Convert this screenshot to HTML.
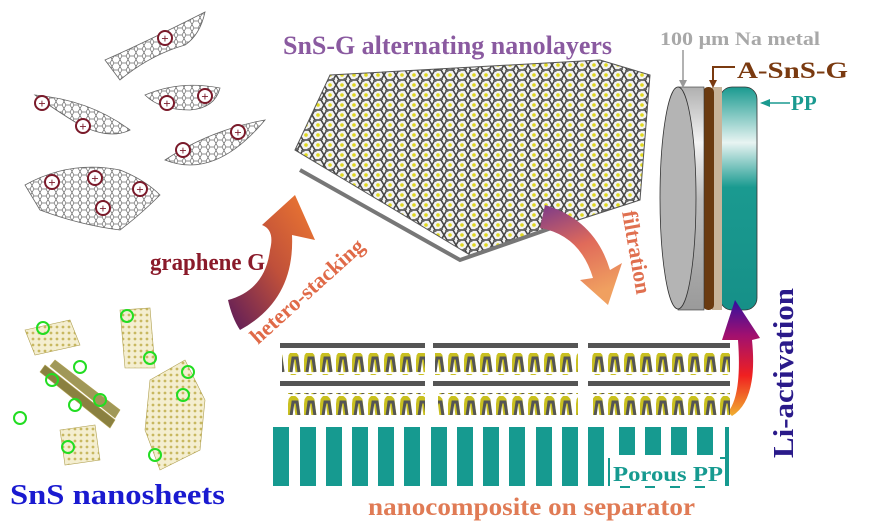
<!DOCTYPE html>
<html><head><meta charset="utf-8"><style>
html,body{margin:0;padding:0;background:#fff;}
svg{display:block}
text{font-family:"Liberation Serif",serif;font-weight:bold}
</style></head><body>
<svg width="872" height="523" viewBox="0 0 872 523" xmlns="http://www.w3.org/2000/svg">
<defs>
<pattern id="hex" width="8" height="7" patternUnits="userSpaceOnUse">
<rect width="8" height="7" fill="#fff"/>
<path d="M0 3.5 L2 0 L6 0 L8 3.5 L6 7 L2 7 Z" fill="none" stroke="#666" stroke-width="0.7"/>
</pattern>
<pattern id="hexy" width="12" height="10" patternUnits="userSpaceOnUse">
<rect width="12" height="10" fill="#f2f2f2"/>
<path d="M0 5 L3 0 L9 0 L12 5 L9 10 L3 10 Z" fill="none" stroke="#444" stroke-width="1.6"/>
<circle cx="3" cy="0" r="2" fill="#666"/><circle cx="9" cy="10" r="2" fill="#666"/>
<circle cx="6" cy="5" r="1.8" fill="#e0d820"/>
</pattern>
<pattern id="sns" width="6" height="6" patternUnits="userSpaceOnUse">
<rect width="6" height="6" fill="#f4eed0"/>
<circle cx="3" cy="3" r="1.4" fill="#c8b860"/>
</pattern>
<pattern id="wave" width="16" height="22" patternUnits="userSpaceOnUse">
<path d="M1 20 L3 4 Q5 0 8 4 L10 20" fill="none" stroke="#c9c020" stroke-width="5"/>
<path d="M3 20 L5 6 L9 6 L11 20" fill="none" stroke="#555" stroke-width="3"/>
</pattern>
<linearGradient id="ghs" x1="0" y1="1" x2="1" y2="0">
<stop offset="0" stop-color="#5a1a5a"/><stop offset="0.5" stop-color="#c0503a"/><stop offset="1" stop-color="#f07a30"/>
</linearGradient>
<linearGradient id="gfil" x1="0" y1="0" x2="0.3" y2="1">
<stop offset="0" stop-color="#7a3a8a"/><stop offset="0.5" stop-color="#e06a5a"/><stop offset="1" stop-color="#f0a060"/>
</linearGradient>
<linearGradient id="gli" x1="0" y1="1" x2="0" y2="0">
<stop offset="0" stop-color="#f0b030"/><stop offset="0.35" stop-color="#f02020"/><stop offset="0.7" stop-color="#a01070"/><stop offset="1" stop-color="#3010a0"/>
</linearGradient>
<linearGradient id="gcyl" x1="0" y1="0" x2="0" y2="1">
<stop offset="0" stop-color="#b0b0b0"/><stop offset="0.25" stop-color="#f4f4f4"/><stop offset="0.5" stop-color="#bdbdbd"/><stop offset="1" stop-color="#9a9a9a"/>
</linearGradient>
<linearGradient id="gteal" x1="0" y1="0" x2="0" y2="1">
<stop offset="0" stop-color="#1a9a90"/><stop offset="0.25" stop-color="#e8f4f2"/><stop offset="0.45" stop-color="#1a9a90"/><stop offset="1" stop-color="#169088"/>
</linearGradient>
</defs>

<g stroke="#666" stroke-width="0.8">
<path d="M105 60 Q150 40 205 12 Q200 35 185 45 Q150 55 120 80 Z" fill="url(#hex)"/>
<path d="M35 95 Q90 100 130 130 Q110 140 80 125 Q55 110 35 95 Z" fill="url(#hex)"/>
<path d="M145 95 Q180 80 220 88 Q215 108 190 110 Q160 110 145 95 Z" fill="url(#hex)"/>
<path d="M165 160 Q210 130 265 120 Q240 150 215 160 Q190 170 165 160 Z" fill="url(#hex)"/>
<path d="M25 185 Q70 160 120 170 Q145 180 160 195 Q140 215 120 230 Q80 225 40 210 Z" fill="url(#hex)"/>
</g>
<g stroke="#7a1a2a" stroke-width="2" fill="#fff">
<circle cx="165" cy="38" r="7"/><circle cx="42" cy="103" r="7"/><circle cx="83" cy="126" r="7"/>
<circle cx="167" cy="103" r="7"/><circle cx="205" cy="96" r="7"/><circle cx="238" cy="132" r="7"/>
<circle cx="183" cy="150" r="7"/><circle cx="52" cy="182" r="7"/><circle cx="95" cy="178" r="7"/>
<circle cx="140" cy="189" r="7"/><circle cx="103" cy="208" r="7"/>
</g>
<g fill="#7a1a2a" font-size="13" text-anchor="middle" style="font-family:'Liberation Sans',sans-serif">
<text x="165" y="43">+</text><text x="42" y="108">+</text><text x="83" y="131">+</text>
<text x="167" y="108">+</text><text x="205" y="101">+</text><text x="238" y="137">+</text>
<text x="183" y="155">+</text><text x="52" y="187">+</text><text x="95" y="183">+</text>
<text x="140" y="194">+</text><text x="103" y="213">+</text>
</g>
<text x="150" y="270" font-size="24" fill="#8a1a2a" textLength="115" lengthAdjust="spacingAndGlyphs">graphene G</text>

<g stroke="#b0a050" stroke-width="0.6">
<path d="M25 330 L70 320 L80 345 L35 355 Z" fill="url(#sns)"/>
<path d="M120 310 L150 308 L155 368 L125 368 Z" fill="url(#sns)"/>
<path d="M150 380 L185 360 L205 400 L200 450 L160 470 L145 430 Z" fill="url(#sns)"/>
<path d="M60 430 L95 425 L100 460 L65 465 Z" fill="url(#sns)"/>
<path d="M45 365 L115 420 L110 428 L40 372 Z" fill="#8a8040"/>
<path d="M55 360 L120 410 L115 418 L50 366 Z" fill="#a09858"/>
</g>
<g stroke="#22dd22" stroke-width="2" fill="none">
<circle cx="43" cy="328" r="6"/><circle cx="127" cy="316" r="6"/><circle cx="150" cy="358" r="6"/>
<circle cx="52" cy="380" r="6"/><circle cx="80" cy="367" r="6"/><circle cx="75" cy="405" r="6"/>
<circle cx="100" cy="400" r="6"/><circle cx="188" cy="372" r="6"/><circle cx="183" cy="395" r="6"/>
<circle cx="20" cy="418" r="6"/><circle cx="68" cy="447" r="6"/><circle cx="155" cy="455" r="6"/>
</g>
<text x="10" y="504" font-size="28" fill="#1a1ad0" textLength="215" lengthAdjust="spacingAndGlyphs">SnS nanosheets</text>

<path d="M228 300 Q265 290 270 250 Q275 230 262 225 L295 195 L315 240 L292 235 Q295 300 240 330 Q232 318 228 300 Z" fill="url(#ghs)"/>
<text transform="translate(258,345) rotate(-42)" font-size="22" fill="#e06a48">hetero-stacking</text>

<text x="283" y="54" font-size="26" fill="#8a5aa0" textLength="329" lengthAdjust="spacingAndGlyphs">SnS-G  alternating nanolayers</text>

<path d="M295 150 L330 75 L600 60 L650 75 L640 200 L470 255 Z" fill="url(#hexy)" stroke="#555" stroke-width="1"/>
<path d="M300 170 L460 260 L560 225" fill="none" stroke="#777" stroke-width="4"/>

<path d="M545 205 Q595 220 610 270 L622 263 L608 305 L580 280 L593 278 Q580 235 540 228 Z" fill="url(#gfil)"/>
<text transform="translate(622,212) rotate(80)" font-size="22" fill="#e07050">filtration</text>

<rect x="720" y="87" width="37" height="223" rx="12" fill="url(#gteal)" stroke="#333" stroke-width="0.8"/>
<rect x="712" y="87" width="10" height="223" fill="#c8b49a"/>
<rect x="703" y="87" width="11" height="223" rx="5" fill="#6a3a10"/>
<rect x="678" y="87" width="26" height="223" fill="url(#gcyl)" stroke="#333" stroke-width="0.6"/>
<ellipse cx="678" cy="198" rx="18" ry="111" fill="#b4b4b4" stroke="#333" stroke-width="0.8"/>
<text x="660" y="45" font-size="19" fill="#a8a8a8" textLength="160" lengthAdjust="spacingAndGlyphs">100 μm Na metal</text>
<line x1="683" y1="50" x2="683" y2="82" stroke="#999" stroke-width="1.5"/>
<path d="M679 80 L683 88 L687 80 Z" fill="#999"/>
<path d="M713 82 L713 67 L735 67" fill="none" stroke="#7a3a10" stroke-width="2"/>
<path d="M709 80 L713 88 L717 80 Z" fill="#7a3a10"/>
<text x="737" y="78" font-size="23" fill="#7a3a10" textLength="111" lengthAdjust="spacingAndGlyphs">A-SnS-G</text>
<line x1="764" y1="103" x2="790" y2="103" stroke="#1a9a90" stroke-width="1.5"/>
<path d="M770 99 L760 103 L770 107 Z" fill="#1a9a90"/>
<text x="791" y="110" font-size="21" fill="#1a9a90">PP</text>

<path d="M732 416 Q758 400 752 340 L760 338 L735 300 L722 340 L738 340 Q742 395 728 412 Z" fill="url(#gli)"/>
<text transform="translate(793,458) rotate(-90)" font-size="28" fill="#2a1a8a" textLength="170" lengthAdjust="spacingAndGlyphs">Li-activation</text>

<g>
<rect x="280" y="343" width="145" height="5" fill="#555"/>
<rect x="433" y="343" width="145" height="5" fill="#555"/>
<rect x="588" y="343" width="142" height="5" fill="#555"/>
<rect x="282" y="353" width="143" height="22" fill="url(#wave)"/>
<rect x="435" y="353" width="143" height="22" fill="url(#wave)"/>
<rect x="590" y="353" width="140" height="22" fill="url(#wave)"/>
<rect x="280" y="381" width="145" height="5" fill="#555"/>
<rect x="433" y="381" width="145" height="5" fill="#555"/>
<rect x="588" y="381" width="142" height="5" fill="#555"/>
<rect x="285" y="393" width="140" height="22" fill="url(#wave)"/>
<rect x="438" y="393" width="140" height="22" fill="url(#wave)"/>
<rect x="593" y="393" width="137" height="22" fill="url(#wave)"/>
</g>

<g fill="#169a90">
<rect x="273" y="427" width="16" height="59"/><rect x="300" y="427" width="16" height="59"/>
<rect x="326" y="427" width="16" height="59"/><rect x="352" y="427" width="16" height="59"/>
<rect x="378" y="427" width="16" height="59"/><rect x="404" y="427" width="16" height="59"/>
<rect x="431" y="427" width="16" height="59"/><rect x="457" y="427" width="16" height="59"/>
<rect x="483" y="427" width="16" height="59"/><rect x="509" y="427" width="16" height="59"/>
<rect x="536" y="427" width="16" height="59"/><rect x="562" y="427" width="16" height="59"/>
<rect x="588" y="427" width="16" height="59"/>
<rect x="619" y="427" width="16" height="28"/><rect x="645" y="427" width="16" height="28"/>
<rect x="671" y="427" width="16" height="28"/><rect x="697" y="427" width="16" height="28"/>
<rect x="725" y="427" width="4" height="59"/>
</g>
<path d="M609 458 L609 486 M720 458 L728 458" stroke="#169a90" stroke-width="2"/>
<text x="613" y="481" font-size="21" fill="#169a90" textLength="110" lengthAdjust="spacingAndGlyphs">Porous PP</text>
<path d="M620 487 h10 M645 487 h10 M670 487 h10 M695 487 h10" stroke="#169a90" stroke-width="2"/>

<text x="368" y="515" font-size="25" fill="#e07b55" textLength="327" lengthAdjust="spacingAndGlyphs">nanocomposite on separator</text>
</svg>
</body></html>
